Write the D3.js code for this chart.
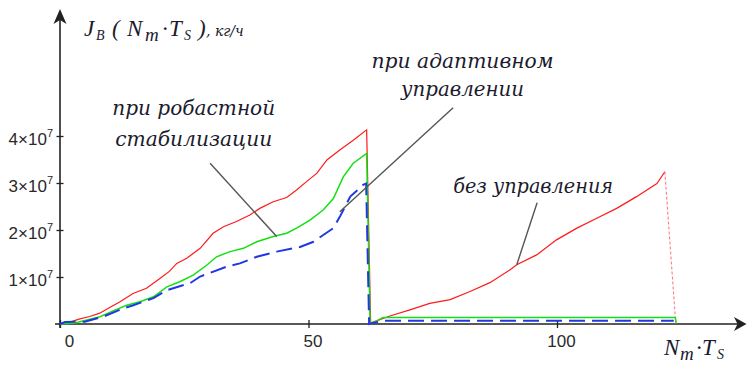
<!DOCTYPE html>
<html>
<head>
<meta charset="utf-8">
<script src="https://cdn.jsdelivr.net/npm/d3@7"></script>
<style>
  html, body { margin: 0; padding: 0; background: #fff; }
  svg { display: block; }
  .lbl { font-family: "Liberation Serif", "Times New Roman", serif; font-style: italic; fill: #1b1b2e; }
  .cap { font-family: "DejaVu Serif", serif; font-style: italic; fill: #1b1b2e; }
  .tick text { font-family: "Liberation Sans", Arial, sans-serif; fill: #2a2a2a; }
</style>
</head>
<body>
<svg id="chart" width="747" height="365"></svg>
<script>
// Flow rate J_B over time N_m·T_s, values in units of 10^7 kg/h.
// Each series: [time, value] pairs.
const noControl = [
  [0, 0], [2, 0.04], [4, 0.11], [6, 0.16], [8, 0.23], [10, 0.35], [12, 0.47],
  [14.7, 0.65], [17.4, 0.76], [20.1, 0.97], [22, 1.12], [23.5, 1.29], [25.5, 1.40],
  [28.2, 1.61], [30.8, 1.93], [32.9, 2.07], [35.5, 2.18], [38.2, 2.32], [40.2, 2.46],
  [42.9, 2.60], [45.6, 2.69], [47.6, 2.85], [49.6, 3.03], [51.7, 3.21], [53.7, 3.49],
  [56.3, 3.70], [59.0, 3.91], [61.7, 4.13], [62.5, 0.03],
  [62.7, 0.03], [66.4, 0.17], [70.4, 0.30], [74.4, 0.44], [78.5, 0.52], [82.5, 0.69],
  [86.5, 0.88], [90.5, 1.15], [91.9, 1.26], [95.9, 1.47], [99.9, 1.79], [104.0, 2.04],
  [108.0, 2.25], [112.0, 2.46], [116.0, 2.71], [120.1, 2.99], [121.7, 3.24], [123.9, 0.0]
];
const robust = [
  [0, 0], [3, 0.02], [5.4, 0.085], [8.05, 0.156], [10.7, 0.28], [13.4, 0.40],
  [16.1, 0.475], [18.8, 0.58], [21.5, 0.79], [24.1, 0.90], [26.8, 1.04], [29.5, 1.25],
  [31.5, 1.43], [34.2, 1.54], [36.9, 1.61], [39.6, 1.75], [42.9, 1.86], [45.6, 1.93],
  [47.6, 2.04], [50.3, 2.21], [53.0, 2.43], [55.0, 2.67], [57.0, 3.13], [59.0, 3.42],
  [61.7, 3.63], [62.4, 0.0],
  [62.6, 0.0], [65, 0.14], [123.8, 0.14], [124.0, 0.03]
];
const adaptive = [
  [0, 0], [1, 0.04], [5, 0.05], [8.7, 0.156], [12.7, 0.33], [14.75, 0.40], [18.8, 0.55],
  [21.5, 0.72], [26.2, 0.87], [28.2, 1.01], [33.5, 1.22], [36.2, 1.29], [39.6, 1.43],
  [43.6, 1.54], [48.3, 1.64], [51.0, 1.75], [55.0, 2.04], [56.3, 2.28], [58.4, 2.71],
  [61.0, 2.96], [61.6, 2.99], [62.2, 0.0],
  [63, 0.02], [65, 0.07], [123.5, 0.07]
];

const xTicks = [0, 50, 100];
const yTicks = [1, 2, 3, 4];
const yTickMantissa = ["1", "2", "3", "4"];

// Annotation captions (centre, baseline in data coords), fitted widths and leader lines
const captions = [
  { lines: ["при робастной", "стабилизации"], widths: [163, 157], at: [26.9, 4.45], gap: 31,
    leader: [[30.2, 3.42], [43.6, 1.86]] },
  { lines: ["при адаптивном", "управлении"], widths: [182, 123], at: [81.0, 5.44], gap: 28,
    leader: [[79.1, 4.6], [56.3, 2.39]] },
  { lines: ["без управления"], widths: [160], at: [95.2, 2.79], gap: 0,
    leader: [[96.0, 2.58], [91.9, 1.26]] }
];

const svg = d3.select("#chart");
const x = d3.scaleLinear().domain([0, 100]).range([60, 557]);
const y = d3.scaleLinear().domain([0, 4]).range([324, 136]);

// axis lines with arrow heads
const axisColor = "#222";
svg.append("line").attr("x1", 55).attr("x2", 740).attr("y1", y(0)).attr("y2", y(0))
  .attr("stroke", axisColor).attr("stroke-width", 1.6);
svg.append("line").attr("x1", x(0)).attr("x2", x(0)).attr("y1", 328).attr("y2", 14)
  .attr("stroke", axisColor).attr("stroke-width", 1.6);
svg.append("path")
  .attr("d", `M${x(0)},9 L${x(0) - 6.5},24 L${x(0)},20 L${x(0) + 6.5},24 Z`)
  .attr("fill", axisColor);
svg.append("path")
  .attr("d", `M746.5,${y(0)} L734,${y(0) - 7} L737.5,${y(0)} L734,${y(0) + 7} Z`)
  .attr("fill", axisColor);

// x axis ticks
const gx = svg.append("g").attr("transform", `translate(0,${y(0)})`)
  .call(d3.axisBottom(x).tickValues(xTicks).tickFormat(d3.format("d")).tickSize(4).tickPadding(0));
gx.select(".domain").remove();
gx.selectAll(".tick line").attr("y1", -4).attr("y2", 4).attr("stroke", axisColor).attr("stroke-width", 1.3);
gx.selectAll(".tick text")
  .attr("font-size", 17).attr("dy", null).attr("y", 23)
  .attr("dx", d => d === 0 ? 9 : 4);

// y axis ticks with exponent labels
const gy = svg.append("g").attr("transform", `translate(${x(0)},0)`)
  .call(d3.axisLeft(y).tickValues(yTicks).tickSize(4).tickPadding(0).tickFormat(() => ""));
gy.select(".domain").remove();
gy.selectAll(".tick line").attr("x1", -3.5).attr("x2", 3.5).attr("stroke", axisColor).attr("stroke-width", 1.3);
gy.selectAll(".tick text").each(function(d, i) {
  const t = d3.select(this).attr("x", -7).attr("dy", null).attr("y", 8)
    .attr("text-anchor", "end").attr("font-size", 17);
  t.append("tspan").text(yTickMantissa[i] + "×10");
  t.append("tspan").attr("font-size", 11).attr("dy", -8).text("7");
});

// series
const line = d3.line().x(d => x(d[0])).y(d => y(d[1]));
svg.append("path").datum(noControl.slice(0, -1)).attr("d", line)
  .attr("fill", "none").attr("stroke", "#ff1a1a").attr("stroke-width", 1.2);
// final cut-off drop, drawn faint
svg.append("path").datum(noControl.slice(-2)).attr("d", line)
  .attr("fill", "none").attr("stroke", "#ff5a6a").attr("stroke-width", 1.1)
  .attr("stroke-dasharray", "3,2").attr("opacity", 0.8);
svg.append("path").datum(robust).attr("d", line)
  .attr("fill", "none").attr("stroke", "#12e012").attr("stroke-width", 1.5);
svg.append("path").datum(adaptive).attr("d", line)
  .attr("fill", "none").attr("stroke", "#2038e0").attr("stroke-width", 2)
  .attr("stroke-dasharray", "16,7");

// captions
captions.forEach(c => {
  svg.append("line")
    .attr("x1", x(c.leader[0][0])).attr("y1", y(c.leader[0][1]))
    .attr("x2", x(c.leader[1][0])).attr("y2", y(c.leader[1][1]))
    .attr("stroke", "#555").attr("stroke-width", 1.4);
  c.lines.forEach((s, i) => {
    svg.append("text").attr("class", "cap")
      .attr("x", x(c.at[0])).attr("y", y(c.at[1]) + i * c.gap)
      .attr("text-anchor", "middle").attr("font-size", 20)
      .attr("textLength", c.widths[i]).attr("lengthAdjust", "spacingAndGlyphs")
      .text(s);
  });
});

// axis titles
const yt = svg.append("text").attr("class", "lbl").attr("y", 36).attr("font-size", 23);
yt.append("tspan").attr("x", 84).text("J");
yt.append("tspan").attr("x", 96).attr("font-size", 14).attr("dy", 4).text("B");
yt.append("tspan").attr("x", 112).attr("dy", -4).text("(");
yt.append("tspan").attr("x", 127).text("N");
yt.append("tspan").attr("x", 145).attr("font-size", 19).attr("dy", 5).text("m");
yt.append("tspan").attr("x", 162).attr("dy", -5).text("·");
yt.append("tspan").attr("x", 169).text("T");
yt.append("tspan").attr("x", 184).attr("font-size", 14).attr("dy", 4).text("S");
yt.append("tspan").attr("x", 198).attr("dy", -4).text(")");
yt.append("tspan").attr("x", 206).attr("font-size", 14).attr("class", "cap").text(", кг/ч");

const xt = svg.append("text").attr("class", "lbl").attr("y", 355).attr("font-size", 23);
xt.append("tspan").attr("x", 664).text("N");
xt.append("tspan").attr("x", 680).attr("font-size", 19).attr("dy", 5).text("m");
xt.append("tspan").attr("x", 696).attr("dy", -5).text("·");
xt.append("tspan").attr("x", 702).text("T");
xt.append("tspan").attr("x", 717).attr("font-size", 14).attr("dy", 4).text("S");
</script>
</body>
</html>
